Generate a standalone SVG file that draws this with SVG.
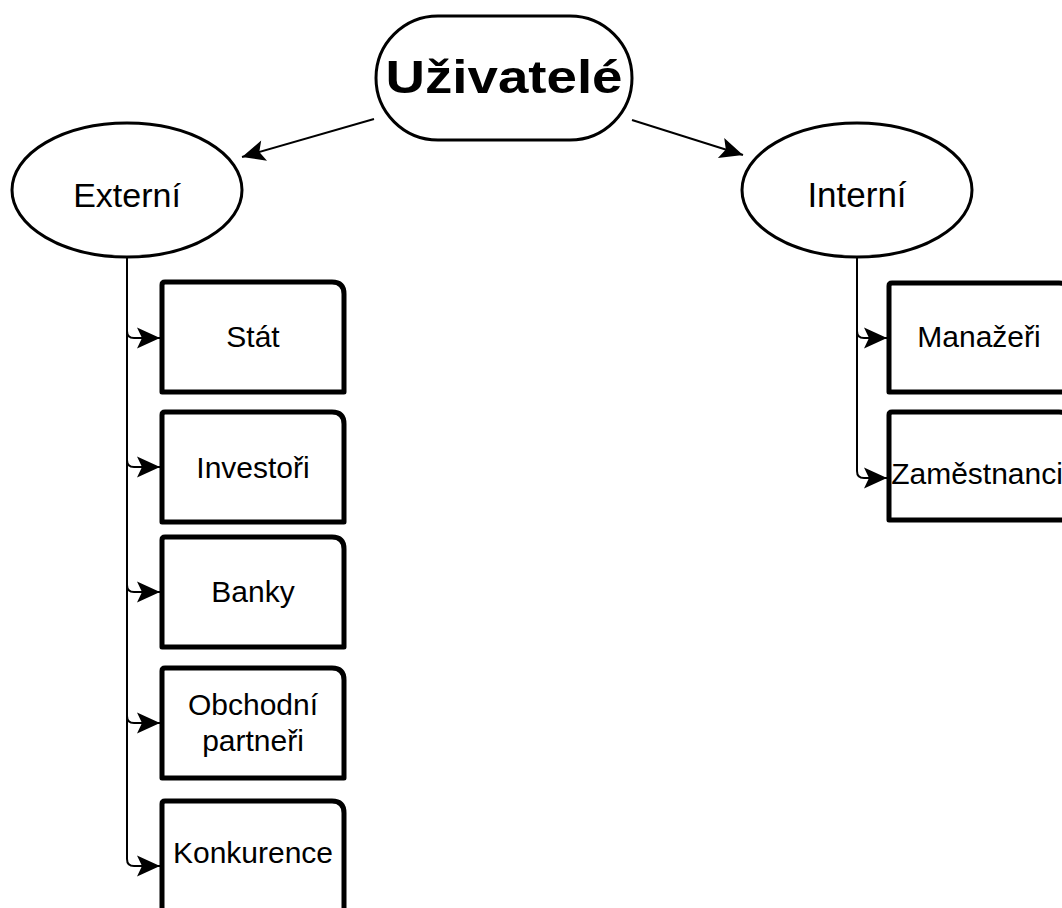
<svg xmlns="http://www.w3.org/2000/svg" width="1062" height="908" viewBox="0 0 1062 908">
<style>
.shape{fill:#fff;stroke:#000;stroke-width:3}
.box{fill:#fff;stroke:#000;stroke-width:5;stroke-linejoin:round}
.conn{fill:none;stroke:#000;stroke-width:2}
.t{font-family:"Liberation Sans",Arial,sans-serif;fill:#000;text-anchor:middle}
.bt{font-size:30px}
</style>
<defs>
<marker id="arr" markerUnits="userSpaceOnUse" markerWidth="30" markerHeight="30" viewBox="0 0 30 30" refX="26" refY="15" orient="auto">
<path d="M26,15 L3,4.5 L8,15 L3,25.5 Z" fill="#000"/>
</marker>
</defs>
<rect width="1062" height="908" fill="#fff"/>
<g id="connectors">
<path class="conn" d="M374,119 L242,157" marker-end="url(#arr)"/>
<path class="conn" d="M632,120 L743,155" marker-end="url(#arr)"/>
<path class="conn" d="M127,257 V331 Q127,338 134,338 H160" marker-end="url(#arr)"/>
<path class="conn" d="M127,257 V460 Q127,467 134,467 H160" marker-end="url(#arr)"/>
<path class="conn" d="M127,257 V585 Q127,592 134,592 H160" marker-end="url(#arr)"/>
<path class="conn" d="M127,257 V716 Q127,723 134,723 H160" marker-end="url(#arr)"/>
<path class="conn" d="M127,257 V859 Q127,866 134,866 H160" marker-end="url(#arr)"/>
<path class="conn" d="M857,257 V331 Q857,338 864,338 H887" marker-end="url(#arr)"/>
<path class="conn" d="M857,257 V471 Q857,478 864,478 H887" marker-end="url(#arr)"/>
</g>
<g id="uzivatele">
<rect class="shape" x="376" y="16" width="256" height="124" rx="62" ry="62"/>
<text class="t" x="504" y="93" font-size="46" font-weight="bold" textLength="237" lengthAdjust="spacingAndGlyphs">Uživatelé</text>
</g>
<g id="externi">
<ellipse class="shape" cx="127" cy="190" rx="115" ry="67"/>
<text class="t" x="127" y="207" font-size="34">Externí</text>
</g>
<g id="interni">
<ellipse class="shape" cx="857" cy="190" rx="115" ry="67"/>
<text class="t" x="857" y="207" font-size="35">Interní</text>
</g>
<g id="stat">
<path class="box" d="M162,392 V285 Q162,282 165,282 H332 Q344,282 344,294 V392 Z"/>
<text class="t bt" x="253" y="347">Stát</text>
</g>
<g id="investori">
<path class="box" d="M162,522 V415 Q162,412 165,412 H332 Q344,412 344,424 V522 Z"/>
<text class="t bt" x="253" y="478">Investoři</text>
</g>
<g id="banky">
<path class="box" d="M162,647 V540 Q162,537 165,537 H332 Q344,537 344,549 V647 Z"/>
<text class="t bt" x="253" y="602">Banky</text>
</g>
<g id="obchodni">
<path class="box" d="M162,778 V671 Q162,668 165,668 H332 Q344,668 344,680 V778 Z"/>
<text class="t bt" x="253" y="715">Obchodní</text>
<text class="t bt" x="253" y="751">partneři</text>
</g>
<g id="konkurence">
<path class="box" d="M162,915 V804 Q162,801 165,801 H332 Q344,801 344,813 V915 Z"/>
<text class="t bt" x="253" y="863">Konkurence</text>
</g>
<g id="manazeri">
<path class="box" d="M889,392 V286 Q889,283 892,283 H1059 Q1071,283 1071,295 V392 Z"/>
<text class="t bt" x="979" y="347">Manažeři</text>
</g>
<g id="zamestnanci">
<path class="box" d="M889,520 V415 Q889,412 892,412 H1059 Q1071,412 1071,424 V520 Z"/>
<text class="t bt" x="977" y="484">Zaměstnanci</text>
</g>
</svg>
